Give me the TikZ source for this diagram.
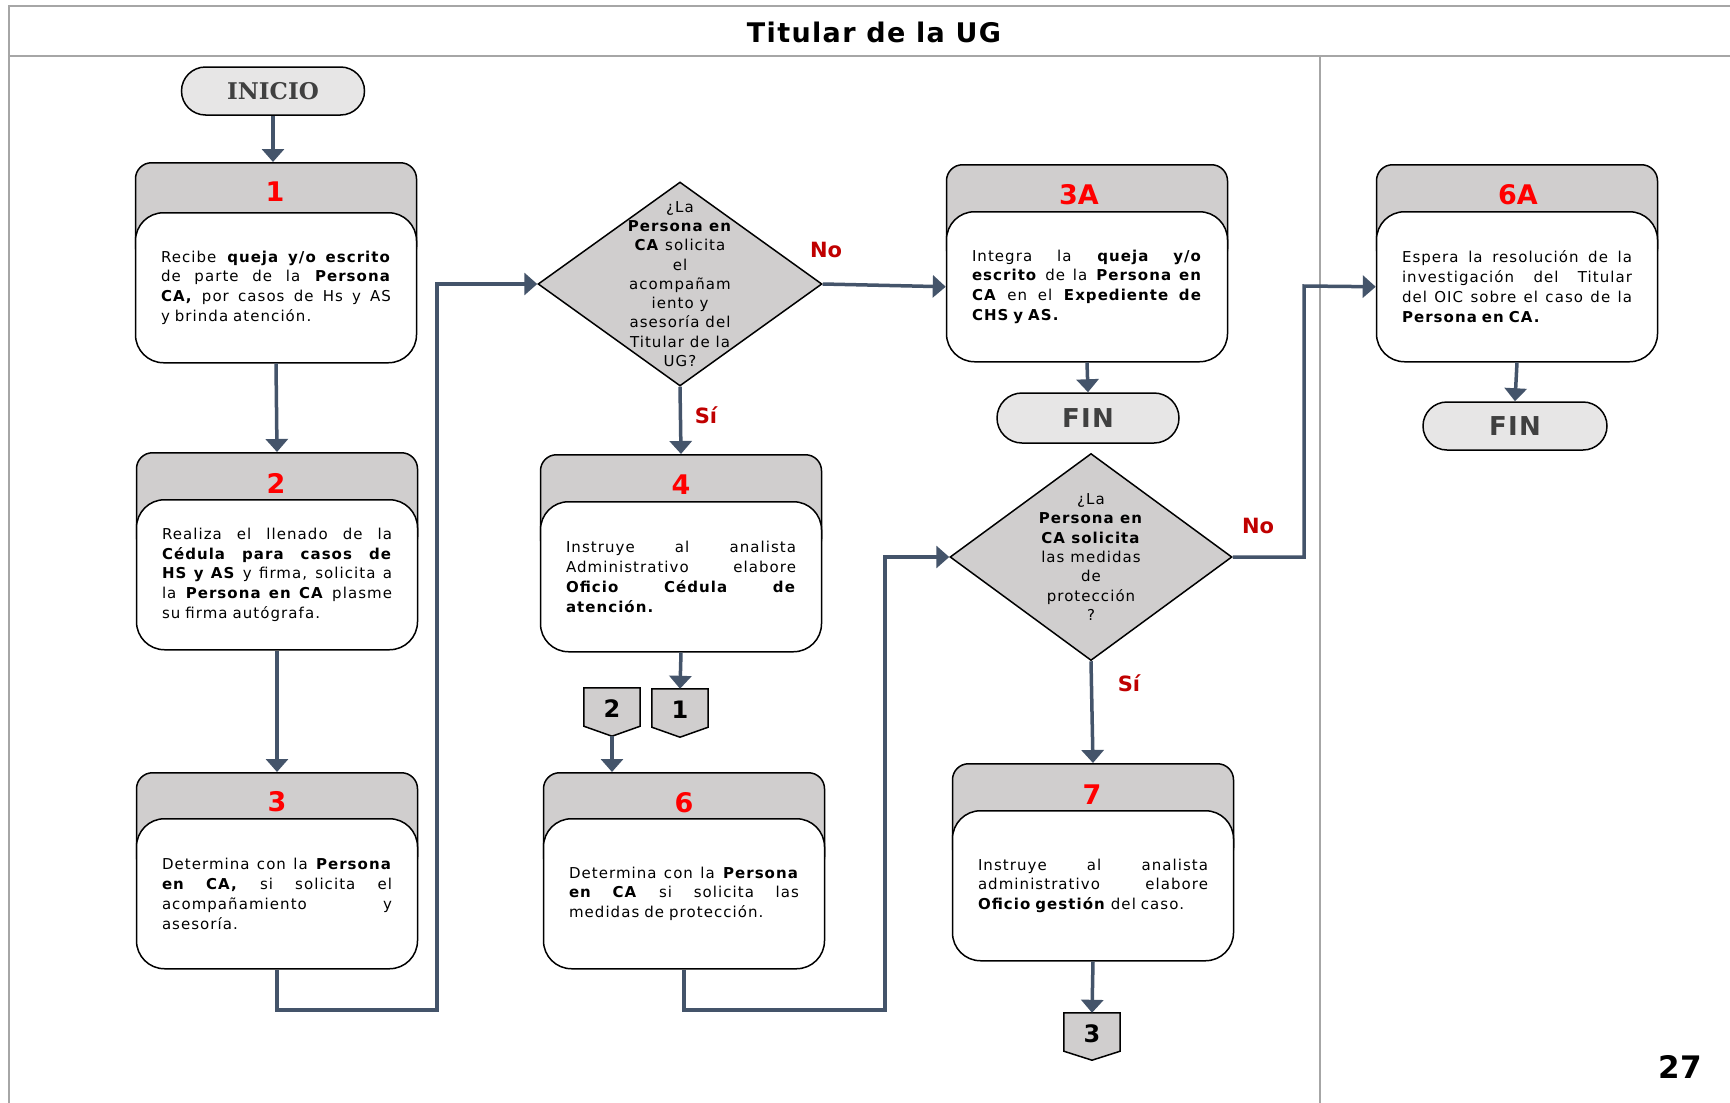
\documentclass[tikz,border=0pt]{standalone}
\usepackage{fontspec}
\setmainfont{DejaVu Sans}
\newfontfamily\bodyfont{DejaVu Sans}[LetterSpace=7]
\newfontfamily\titlefont{DejaVu Sans}[LetterSpace=5]
\newfontfamily\termfont{DejaVu Serif}
\usetikzlibrary{arrows.meta,shapes.geometric}

\definecolor{hdrgray}{HTML}{D0CECE}
\definecolor{termgray}{HTML}{E7E6E6}
\definecolor{connblue}{HTML}{44546A}
\definecolor{framegray}{HTML}{A6A6A6}
\definecolor{numred}{HTML}{FF0000}
\definecolor{labred}{HTML}{C00000}
\definecolor{termtext}{HTML}{404040}

% one fully justified line of a step description: every word gap stretches alike
\newcommand\jl[1]{\makebox[230pt][s]{\spaceskip=0.3em plus 1fil minus 0.1em\xspaceskip=\spaceskip\relax #1}\\}

\tikzset{
  hdr/.style={draw=black, line width=1.5pt, fill=hdrgray, rounded corners=16pt,
    minimum width=281pt, minimum height=100pt, anchor=north, inner sep=0pt},
  body/.style={draw=black, line width=1.5pt, fill=white, rounded corners=28pt,
    minimum width=281pt, minimum height=150pt, anchor=north, text width=230pt,
    align=left, inner sep=0pt, font=\bodyfont\fontsize{15}{19.8}\selectfont},
  stepnum/.style={text=numred, inner sep=0pt, font=\bfseries\fontsize{27}{27}\selectfont},
  term/.style={draw=black, line width=1.5pt, fill=termgray, rounded corners=24pt,
    text=termtext, minimum height=48pt, inner sep=0pt},
  decision/.style={diamond, draw=black, line width=1.5pt, fill=hdrgray,
    minimum width=284pt, minimum height=204pt, inner sep=0pt},
  dtext/.style={align=center, inner sep=0pt, font=\bodyfont\fontsize{15}{19.3}\selectfont},
  offpage/.style={minimum width=56pt, minimum height=48pt, inner sep=0pt},
  offshape/.style={draw=black, line width=1.5pt, fill=hdrgray},
  offnum/.style={inner sep=0pt, font=\bfseries\fontsize{24}{24}\selectfont},
  conn/.style={draw=connblue, line width=3.5pt, -{Triangle[width=22pt,length=13pt]}},
  answer/.style={text=labred, inner sep=0pt, font=\bfseries\fontsize{21}{21}\selectfont},
  frame/.style={draw=framegray, line width=2.5pt}
}

\begin{document}
\begin{tikzpicture}[x=1pt, y=-1pt]
\useasboundingbox (0,0) rectangle (1730,1103);
\fill[white] (0,0) rectangle (1730,1103);

% page frame and lane
\draw[frame] (9,1103) -- (9,6) -- (1730,6);
\draw[frame] (9,56) -- (1730,56);
\draw[frame] (1320,56) -- (1320,1103);
\node[font=\titlefont\bfseries\fontsize{27}{27}\selectfont] (title) at (874,32) {Titular de la UG};
\node[font=\bfseries\fontsize{31}{31}\selectfont] (page) at (1680,1067) {27};

% start
\node[term, minimum width=183pt, font=\termfont\bfseries\fontsize{23}{23}\selectfont] (ini) at (273,91) {INICIO};

% step 1
\node[hdr] (h1) at (276,162) {};
\node[body] (b1) at (276,212) {\jl{Recibe \textbf{queja y/o escrito}}\jl{de parte de la \textbf{Persona}}\jl{\textbf{CA,} por casos de Hs y AS}y brinda atención.};
\node[stepnum] (n1) at (275,192) {1};

% step 2
\node[hdr] (h2) at (277,452) {};
\node[body] (b2) at (277,499) {\jl{Realiza el llenado de la}\jl{\textbf{Cédula para casos de}}\jl{\textbf{HS y AS} y firma, solicita a}\jl{la \textbf{Persona en CA} plasme}su firma autógrafa.};
\node[stepnum] (n2) at (276,483) {2};

% step 3
\node[hdr] (h3) at (277,772) {};
\node[body] (b3) at (277,818) {\jl{Determina con la \textbf{Persona}}\jl{\textbf{en CA,} si solicita el}\jl{acompañamiento y}asesoría.};
\node[stepnum] (n3) at (277,802) {3};

% first decision
\node[decision] (d1) at (680,284) {};
\node[dtext] (d1t) at (d1.center) {¿La\\\textbf{Persona en}\\\textbf{CA} solicita\\el\\acompañam\\iento y\\asesoría del\\Titular de la\\UG?};

% step 4
\node[hdr] (h4) at (681,454) {};
\node[body] (b4) at (681,501) {\jl{Instruye al analista}\jl{Administrativo elabore}\jl{\textbf{Oficio Cédula de}}\textbf{atención.}};
\node[stepnum] (n4) at (681,485) {4};

% off-page references
\node[offpage] (c2) at (612,712) {};
\draw[offshape] (c2.north west) -- (c2.north east) -- ([yshift=10pt]c2.south east) -- (c2.south) -- ([yshift=10pt]c2.south west) -- cycle;
\node[offnum] (c2n) at ([yshift=3pt]c2.center) {2};
\node[offpage] (c1) at (680,713) {};
\draw[offshape] (c1.north west) -- (c1.north east) -- ([yshift=10pt]c1.south east) -- (c1.south) -- ([yshift=10pt]c1.south west) -- cycle;
\node[offnum] (c1n) at ([yshift=3pt]c1.center) {1};

% step 6
\node[hdr] (h6) at (684,772) {};
\node[body] (b6) at (684,818) {\jl{Determina con la \textbf{Persona}}\jl{\textbf{en CA} si solicita las}medidas de protección.};
\node[stepnum] (n6) at (684,803) {6};

% step 3A
\node[hdr] (h3A) at (1087,164) {};
\node[body] (b3A) at (1087,211) {\jl{Integra la \textbf{queja y/o}}\jl{\textbf{escrito} de la \textbf{Persona en}}\jl{\textbf{CA} en el \textbf{Expediente de}}\textbf{CHS y AS.}};
\node[stepnum] (n3A) at (1079,195) {3A};
\node[term, minimum width=182pt, minimum height=50pt, rounded corners=25pt, font=\titlefont\bfseries\fontsize{26}{26}\selectfont] (fin1) at (1088,418) {FIN};

% second decision
\node[decision, minimum width=282pt, minimum height=207pt] (d2) at (1091,557) {};
\node[dtext] (d2t) at (d2.center) {¿La\\\textbf{Persona en}\\\textbf{CA solicita}\\las medidas\\de\\protección\\?};

% step 7
\node[hdr] (h7) at (1093,763) {};
\node[body] (b7) at (1093,810) {\jl{Instruye al analista}\jl{administrativo elabore}\textbf{Oficio gestión} del caso.};
\node[stepnum] (n7) at (1092,795) {7};
\node[offpage, minimum height=47pt] (c3) at (1092,1036.5) {};
\draw[offshape] (c3.north west) -- (c3.north east) -- ([yshift=9pt]c3.south east) -- (c3.south) -- ([yshift=9pt]c3.south west) -- cycle;
\node[offnum] (c3n) at ([yshift=3pt]c3.center) {3};

% step 6A
\node[hdr] (h6A) at (1517,164) {};
\node[body] (b6A) at (1517,211) {\jl{Espera la resolución de la}\jl{investigación del Titular}\jl{del OIC sobre el caso de la}\textbf{Persona en CA.}};
\node[stepnum] (n6A) at (1518,195) {6A};
\node[term, minimum width=184pt, font=\titlefont\bfseries\fontsize{26}{26}\selectfont] (fin2) at (1515,426) {FIN};

% connectors
\draw[conn] (ini.south) -- (ini.south |- h1.north);
\draw[conn] (b1.south) -- (h2.north);
\draw[conn] (b2.south) -- (h3.north);
\draw[conn] (b3.south) |- (437,1010) |- (d1.west);
\draw[conn] (d1.east) -- (b3A.west);
\draw[conn] (d1.south) -- (h4.north);
\draw[conn] (b4.south) -- (c1.north);
\draw[conn] (c2.south) -- (c2.south |- h6.north);
\draw[conn] (b6.south) |- (885,1010) |- (d2.west);
\draw[conn] (d2.east) -| (1304,286) -- (b6A.west);
\draw[conn] (d2.south) -- (h7.north);
\draw[conn] (b7.south) -- (c3.north);
\draw[conn] (b3A.south) -- (fin1.north);
\draw[conn] (b6A.south) -- (fin2.north);

% answers
\node[answer] (no1) at (826,250) {No};
\node[answer] (si1) at (706,415) {Sí};
\node[answer] (no2) at (1258,526) {No};
\node[answer] (si2) at (1129,683) {Sí};
\end{tikzpicture}
\end{document}
